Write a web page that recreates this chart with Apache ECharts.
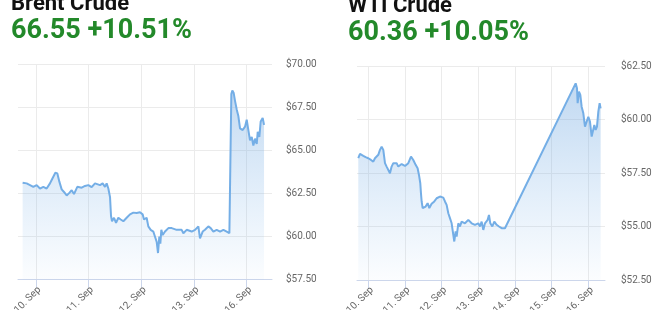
<!DOCTYPE html>
<html><head><meta charset="utf-8">
<script src="https://cdn.jsdelivr.net/npm/echarts@6/dist/echarts.min.js"></script>
<style>html,body{margin:0;padding:0;background:#fff}#c{width:670px;height:310px}</style>
</head><body><div id="c"></div>
<script>
// ---- data ----
const brentTitle = 'Brent Crude';
const brentQuote = '66.55 +10.51%';
const brentTickLabels = ['10. Sep','11. Sep','12. Sep','13. Sep','16. Sep'];
const brentTickDays = [0,1,2,3,4];
// x = trading-day index (10 Sep = 0, weekend removed)
const brentDays = [-0.251,-0.175,-0.111,-0.048,0.015,0.078,0.142,0.205,0.268,0.300,0.332,0.370,0.408,0.446,0.490,0.534,0.585,0.635,0.680,0.724,0.787,0.870,0.933,0.996,1.059,1.123,1.154,1.218,1.268,1.313,1.344,1.376,1.408,1.427,1.446,1.484,1.522,1.566,1.611,1.661,1.724,1.787,1.851,1.914,1.977,2.027,2.053,2.103,2.135,2.180,2.230,2.262,2.294,2.319,2.344,2.363,2.382,2.408,2.452,2.516,2.579,2.673,2.768,2.800,2.863,2.958,3.022,3.085,3.116,3.167,3.211,3.275,3.319,3.370,3.433,3.497,3.560,3.623,3.674,3.686,3.711,3.730,3.756,3.781,3.813,3.845,3.876,3.927,3.971,4.003,4.034,4.066,4.098,4.129,4.161,4.193,4.212,4.243,4.268,4.306,4.332];
const brentPrices = [63.14,63.10,63.00,62.90,63.00,62.80,62.90,62.80,63.10,63.30,63.40,63.72,63.68,63.20,62.75,62.60,62.40,62.55,62.70,62.48,62.90,62.85,62.95,63.00,62.88,63.10,63.20,63.00,63.10,62.90,63.10,62.80,62.30,61.20,60.90,61.10,60.80,61.10,61.00,60.90,61.10,61.30,61.40,61.38,61.42,61.30,61.00,61.10,60.60,60.40,60.30,60.00,59.70,59.05,60.00,59.60,60.40,60.10,60.30,60.50,60.50,60.40,60.40,60.20,60.40,60.30,60.40,60.60,59.90,60.30,60.40,60.60,60.50,60.30,60.40,60.30,60.40,60.30,60.20,60.25,68.30,68.50,68.35,67.90,67.40,67.00,66.30,66.20,66.40,66.80,66.20,65.60,65.80,65.30,65.70,65.40,66.10,65.80,66.70,66.90,66.50];
const brentYMin = 57.5, brentYMax = 70, yStep = 2.5;

const wtiTitle = 'WTI Crude';
const wtiQuote = '60.36 +10.05%';
const wtiTickLabels = ['10. Sep','11. Sep','12. Sep','13. Sep','14. Sep','15. Sep','16. Sep'];
const wtiTickDays = [0,1,2,3,4,5,6];
// x = calendar days since 10 Sep
const wtiDays = [-0.273,-0.227,-0.182,-0.136,-0.073,0,0.073,0.136,0.182,0.227,0.273,0.318,0.364,0.409,0.455,0.5,0.545,0.591,0.636,0.682,0.727,0.773,0.818,0.864,0.909,1.0,1.091,1.164,1.227,1.291,1.345,1.382,1.418,1.436,1.455,1.482,1.527,1.564,1.618,1.664,1.727,1.8,1.864,1.955,2.045,2.091,2.136,2.182,2.227,2.273,2.318,2.345,2.382,2.409,2.455,2.5,2.545,2.636,2.727,2.818,2.909,3.0,3.045,3.091,3.136,3.182,3.255,3.291,3.327,3.382,3.436,3.5,3.564,3.636,3.727,3.773,5.655,5.691,5.709,5.745,5.782,5.818,5.864,5.909,5.955,6.0,6.045,6.091,6.136,6.164,6.2,6.236,6.273,6.309,6.336];
const wtiPrices = [58.19,58.39,58.42,58.30,58.24,58.19,58.11,58.03,58.19,58.24,58.35,58.58,58.73,58.58,57.96,57.80,57.88,57.49,57.80,57.96,57.88,57.96,57.80,57.88,57.92,57.83,57.96,58.27,58.11,57.88,57.72,57.41,57.02,56.56,56.17,55.86,55.78,55.93,56.09,55.86,56.06,56.17,56.32,56.40,56.35,56.17,56.01,55.62,55.39,55.15,54.61,54.30,54.77,54.53,55.15,55.00,55.23,55.15,55.31,55.15,55.08,55.15,55.00,55.23,54.84,55.15,55.31,55.54,55.15,55.00,55.23,55.08,55.00,54.92,54.92,54.92,61.69,61.46,60.76,61.30,61.15,60.60,60.29,59.67,59.74,60.13,59.90,59.20,59.28,59.74,59.51,59.67,60.37,60.76,60.52];
const wtiYMin = 52.5, wtiYMax = 62.5;

// ---- chart ----
const zip = (xs, ys) => xs.map((x, i) => [x, ys[i]]);
const FONT = 'Roboto';
const LINE = '#74aee6';
const grids = [
  {left: 18, top: 64.7, width: 254, height: 215, containLabel: false, outerBoundsMode: 'none'},
  {left: 357, top: 66, width: 248, height: 214, containLabel: false, outerBoundsMode: 'none'}
];
function areaGrad(g) {
  return new echarts.graphic.LinearGradient(0, g.top, 0, g.top + g.height, [
    {offset: 0, color: 'rgba(112,166,222,0.68)'},
    {offset: 1, color: 'rgba(124,181,236,0.04)'}
  ], true);
}
function xAxis(idx, min, max, ticks, labels) {
  return {
    type: 'value', gridIndex: idx, min: min, max: max,
    axisLine: {show: true, lineStyle: {color: '#ccd6eb', width: 1}},
    axisTick: {show: true, customValues: ticks, length: 8, lineStyle: {color: '#ccd6eb'}},
    axisLabel: {customValues: ticks, rotate: 45, margin: 12, padding: [0, -5, 0, 0], color: '#666', fontSize: 10, fontFamily: FONT,
      formatter: v => labels[ticks.indexOf(Math.round(v))] || ''},
    splitLine: {show: true, lineStyle: {color: '#ebebeb', width: 1}}
  };
}
function yAxis(idx, min, max, margin) {
  return {
    type: 'value', gridIndex: idx, position: 'right', min: min, max: max, interval: yStep,
    axisLine: {show: false}, axisTick: {show: false},
    axisLabel: {color: '#666', fontSize: 10, fontFamily: FONT, margin: margin,
      formatter: v => '$' + v.toFixed(2)},
    splitLine: {lineStyle: {color: '#ebebeb', width: 1}}
  };
}
function series(idx, xs, ys) {
  return {
    type: 'line', xAxisIndex: idx, yAxisIndex: idx, data: zip(xs, ys),
    showSymbol: false, symbol: 'none', smooth: false,
    lineStyle: {color: LINE, width: 2}, itemStyle: {color: LINE},
    areaStyle: {color: areaGrad(grids[idx]), origin: 'start'}
  };
}
const chart = echarts.init(document.getElementById('c'), null, {renderer: 'canvas'});
chart.setOption({
  animation: false,
  backgroundColor: '#fff',
  title: [
    {text: brentTitle, left: 11, top: -7, padding: 0, textStyle: {fontFamily: FONT, fontSize: 22, fontWeight: 'bold', color: '#111'}},
    {text: brentQuote, left: 11, top: 18, padding: 0, textStyle: {fontFamily: FONT, fontSize: 27, fontWeight: 'bold', color: '#23892a'}},
    {text: wtiTitle, left: 348, top: -5, padding: 0, textStyle: {fontFamily: FONT, fontSize: 22, fontWeight: 'bold', color: '#111'}},
    {text: wtiQuote, left: 348, top: 20, padding: 0, textStyle: {fontFamily: FONT, fontSize: 27, fontWeight: 'bold', color: '#23892a'}}
  ],
  grid: grids,
  xAxis: [
    xAxis(0, -0.339, 4.483, brentTickDays, brentTickLabels),
    xAxis(1, -0.308, 6.455, wtiTickDays, wtiTickLabels)
  ],
  yAxis: [yAxis(0, brentYMin, brentYMax, 14), yAxis(1, wtiYMin, wtiYMax, 16)],
  series: [series(0, brentDays, brentPrices), series(1, wtiDays, wtiPrices)]
});
</script></body></html>
